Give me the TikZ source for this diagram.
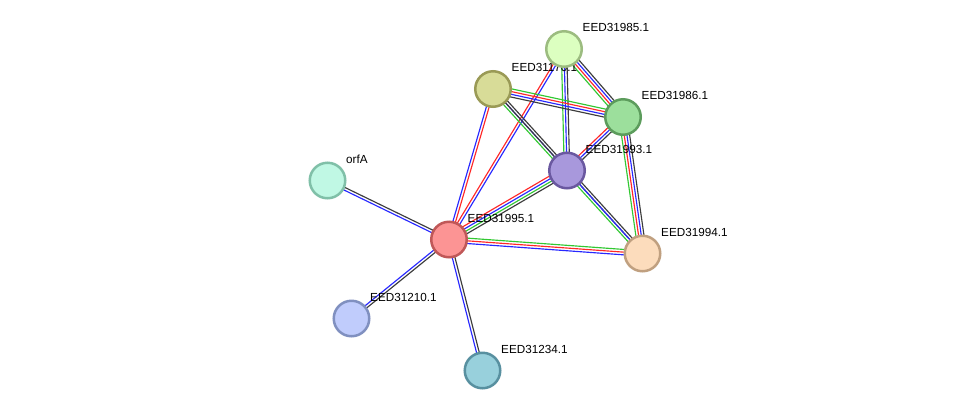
\documentclass[tikz,border=0pt]{standalone}
\usepackage{fontspec}
\setmainfont{Liberation Sans}
\usetikzlibrary{calc}
\definecolor{eg}{RGB}{50,200,50}
\definecolor{er}{RGB}{255,40,40}
\definecolor{eb}{RGB}{40,40,255}
\definecolor{ek}{RGB}{60,60,60}
\definecolor{f85}{RGB}{220,255,192}\definecolor{d85}{RGB}{156,188,128}
\definecolor{f70}{RGB}{216,220,152}\definecolor{d70}{RGB}{154,154,86}
\definecolor{f86}{RGB}{156,223,156}\definecolor{d86}{RGB}{92,156,92}
\definecolor{f93}{RGB}{168,152,220}\definecolor{d93}{RGB}{106,88,160}
\definecolor{fA}{RGB}{192,248,228}\definecolor{dA}{RGB}{128,192,168}
\definecolor{f95}{RGB}{252,148,148}\definecolor{d95}{RGB}{192,88,88}
\definecolor{f94}{RGB}{252,220,188}\definecolor{d94}{RGB}{192,160,128}
\definecolor{f10}{RGB}{192,204,252}\definecolor{d10}{RGB}{128,144,192}
\definecolor{f34}{RGB}{152,208,220}\definecolor{d34}{RGB}{88,144,160}
\pgfdeclarelayer{bg}\pgfdeclarelayer{edges}\pgfdeclarelayer{labels}
\pgfsetlayers{bg,edges,labels,main}
\tikzset{
  prot/.style={circle, draw, line width=2.5pt, minimum size=35.5pt, inner sep=0pt},
  lab/.style={anchor=base west, font=\fontsize{11.7}{14}\selectfont, inner sep=0pt},
  eline/.style={line width=1.15pt}
}
\newcommand\medge[4]{%
  \foreach \c [count=\i] in {#4}{%
    \pgfmathsetmacro\off{(\i-(#3+1)/2)*2.7}%
    \draw[eline, color=\c] ($(#1)!\off pt!-90:(#2)$) -- ($(#2)!\off pt!90:(#1)$);}}
\begin{document}
\begin{tikzpicture}[x=1pt,y=-1pt]
\begin{pgfonlayer}{bg}
\fill[white] (0,0) rectangle (975,416);
\end{pgfonlayer}
\useasboundingbox (0,0) rectangle (975,416);
% nodes
\node[prot, fill=f85, draw=d85] (n85) at (564,49) {};
\node[prot, fill=f70, draw=d70] (n70) at (493,89) {};
\node[prot, fill=f86, draw=d86] (n86) at (623,117) {};
\node[prot, fill=f93, draw=d93] (n93) at (567,170.5) {};
\node[prot, fill=fA, draw=dA] (nA) at (327.5,180.5) {};
\node[prot, fill=f95, draw=d95] (n95) at (449,239.5) {};
\node[prot, fill=f94, draw=d94] (n94) at (642.5,253.5) {};
\node[prot, fill=f10, draw=d10] (n10) at (351.5,318.5) {};
\node[prot, fill=f34, draw=d34] (n34) at (482.5,370.5) {};
% labels
\begin{pgfonlayer}{labels}
\node[lab] (l85) at ($(n85)+(18.5,-17.5)$) {EED31985.1};
\node[lab] (l70) at ($(n70)+(18.5,-17.5)$) {EED31170.1};
\node[lab] (l86) at ($(n86)+(18.5,-17.5)$) {EED31986.1};
\node[lab] (l93) at ($(n93)+(18.5,-17.5)$) {EED31993.1};
\node[lab] (lA) at ($(nA)+(18.5,-17.5)$) {orfA};
\node[lab] (l95) at ($(n95)+(18.5,-17.5)$) {EED31995.1};
\node[lab] (l94) at ($(n94)+(18.5,-17.5)$) {EED31994.1};
\node[lab] (l10) at ($(n10)+(18.5,-17.5)$) {EED31210.1};
\node[lab] (l34) at ($(n34)+(18.5,-17.5)$) {EED31234.1};
\end{pgfonlayer}
% edges
\begin{pgfonlayer}{edges}
\medge{n85}{n86}{4}{ek,eb,er,eg}
\medge{n85}{n93}{3}{ek,eb,eg}
\medge{n85}{n95}{2}{eb,er}
\medge{n70}{n86}{4}{eg,er,eb,ek}
\medge{n70}{n93}{3}{ek,eb,eg}
\medge{n70}{n94}{1}{ek}
\medge{n70}{n95}{2}{er,eb}
\medge{n86}{n93}{3}{ek,eb,er}
\medge{n86}{n94}{4}{ek,eb,er,eg}
\medge{n93}{n95}{4}{ek,eg,eb,er}
\medge{n93}{n94}{3}{ek,eb,eg}
\medge{n95}{n94}{3}{eg,er,eb}
\medge{n95}{nA}{2}{eb,ek}
\medge{n95}{n10}{2}{ek,eb}
\medge{n95}{n34}{2}{ek,eb}
\end{pgfonlayer}
\end{tikzpicture}
\end{document}
